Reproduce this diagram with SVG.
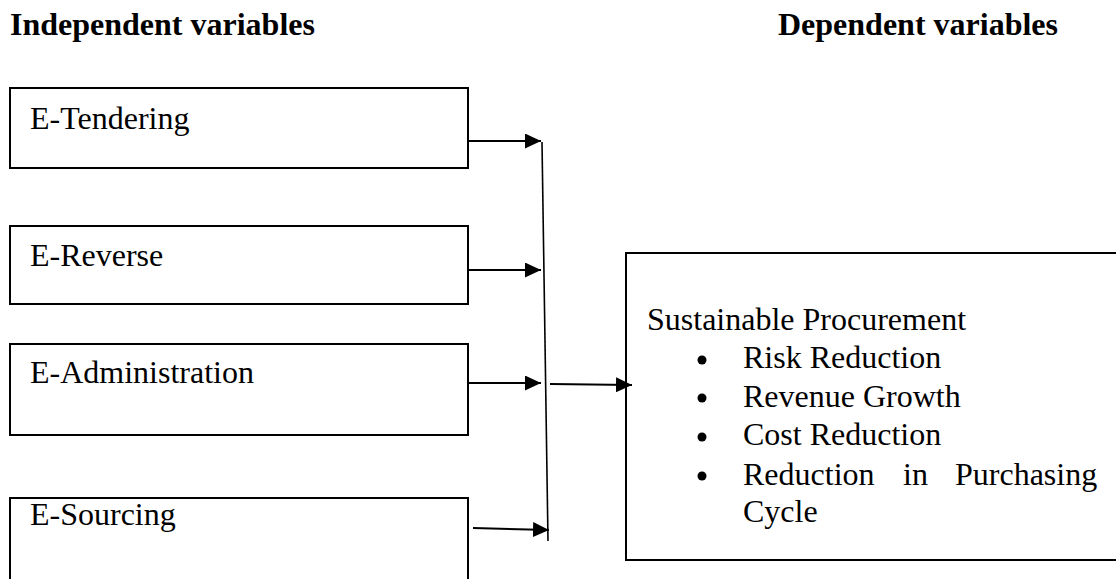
<svg xmlns="http://www.w3.org/2000/svg" width="1116" height="579" viewBox="0 0 1116 579">
<style>
.box{fill:#fff;stroke:#000;stroke-width:2}
.t{font-family:"Liberation Serif","Times New Roman",serif;font-size:32px;fill:#000}
.h{font-family:"Liberation Serif","Times New Roman",serif;font-size:32px;font-weight:bold;fill:#000}
.ln{stroke:#000;stroke-width:2;fill:none}
</style>
<defs>
<marker id="ah" markerWidth="16" markerHeight="15" refX="16" refY="7.5" orient="auto" markerUnits="userSpaceOnUse">
<path d="M0,0 L16,7.5 L0,15 Z" fill="#000"/>
</marker>
</defs>
<rect width="1116" height="579" fill="#fff"/>
<g id="headers">
<text class="h" x="10" y="35">Independent variables</text>
<text class="h" x="778" y="35">Dependent variables</text>
</g>
<g id="n-tendering">
<rect class="box" x="10" y="88" width="458" height="80"/>
<text class="t" x="30" y="129">E-Tendering</text>
</g>
<g id="n-reverse">
<rect class="box" x="10" y="226" width="458" height="78"/>
<text class="t" x="30" y="266">E-Reverse</text>
</g>
<g id="n-administration">
<rect class="box" x="10" y="344" width="458" height="91"/>
<text class="t" x="30" y="383">E-Administration</text>
</g>
<g id="n-sourcing">
<rect class="box" x="10" y="498" width="458" height="90"/>
<text class="t" x="30" y="525">E-Sourcing</text>
</g>
<g id="n-sustainable">
<rect class="box" x="626" y="253" width="500" height="307"/>
<text class="t" x="647" y="330">Sustainable Procurement</text>
<circle cx="702" cy="360" r="4.5" fill="#000"/>
<text class="t" x="743" y="368">Risk Reduction</text>
<circle cx="702" cy="398" r="4.5" fill="#000"/>
<text class="t" x="743" y="407">Revenue Growth</text>
<circle cx="702" cy="437" r="4.5" fill="#000"/>
<text class="t" x="743" y="445">Cost Reduction</text>
<circle cx="702" cy="476" r="4.5" fill="#000"/>
<text class="t" y="485"><tspan x="743">Reduction</tspan><tspan x="903">in</tspan><tspan x="955">Purchasing</tspan></text>
<text class="t" x="743" y="522">Cycle</text>
</g>
<g id="connectors">
<line class="ln" x1="469" y1="141" x2="541" y2="141" marker-end="url(#ah)"/>
<line class="ln" x1="469" y1="270" x2="541" y2="270" marker-end="url(#ah)"/>
<line class="ln" x1="469" y1="383" x2="541" y2="383" marker-end="url(#ah)"/>
<line class="ln" x1="473" y1="528" x2="549" y2="530" marker-end="url(#ah)"/>
<line class="ln" x1="542" y1="142" x2="548" y2="541" style="stroke-width:1.6"/>
<line class="ln" x1="550" y1="384" x2="632" y2="385" marker-end="url(#ah)"/>
</g>
</svg>
